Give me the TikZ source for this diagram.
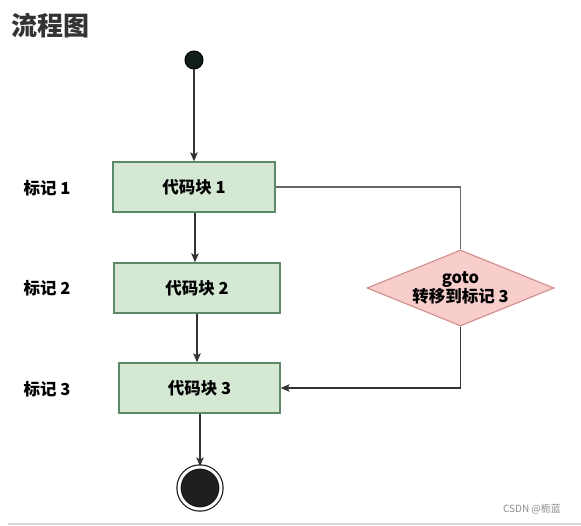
\documentclass[tikz,border=0pt]{standalone}
\usepackage{fontspec}
\setmainfont{Noto Sans CJK SC}
\usetikzlibrary{shapes.geometric,arrows.meta}
\definecolor{bloqueFill}{HTML}{D5E8D4}
\definecolor{bloqueDraw}{HTML}{5C8A68}
\definecolor{saltoFill}{HTML}{F8CECC}
\definecolor{saltoDraw}{HTML}{D08C8A}
\definecolor{inicioFill}{RGB}{18,30,24}
\tikzset{
	bloque/.style={rectangle, draw=bloqueDraw, fill=bloqueFill, line width=1.3pt,
		minimum height=50pt, inner sep=0pt, font=\fontsize{16.5}{19}\selectfont\bfseries},
	marca/.style={font=\fontsize{16.5}{19}\selectfont\bfseries},
	salto/.style={diamond, draw=saltoDraw, fill=saltoFill, line width=1.1pt, aspect=2.45,
		minimum width=187pt, minimum height=76pt, inner sep=0pt, align=center,
		font=\fontsize{16.5}{18}\selectfont\bfseries},
	flecha/.style={draw=black!80, line width=1.2pt, -{Stealth[length=9pt,width=7.5pt,inset=2pt]}},
	linea/.style={draw=black!60, line width=1.2pt}
}
\begin{document}
\begin{tikzpicture}[x=1pt, y=-1pt]
		\useasboundingbox (0,0) rectangle (581,526);
		% Título
		\node[font=\fontsize{26}{30}\selectfont\bfseries, text=black!80] (titulo) at (51,26) {流程图};
		% Inicio y fin
		\node[circle, draw=black, fill=inicioFill, line width=1pt, minimum size=18pt, inner sep=0pt] (inicio) at (194,60) {};
		\node[circle, draw=black!90, double=white, double distance=3pt, line width=1.2pt,
			fill=black!88, minimum size=42pt, inner sep=0pt] (fin) at (200,488) {};
		% Bloques de código
		\node[bloque, minimum width=162pt] (b1) at (194,187) {代码块 1};
		\node[bloque, minimum width=166pt] (b2) at (197,288) {代码块 2};
		\node[bloque, minimum width=161pt] (b3) at (199.5,388) {代码块 3};
		% Marcas
		\node[marca] (m1) at (47,188) {标记 1};
		\node[marca] (m2) at (47,288) {标记 2};
		\node[marca] (m3) at (47,389) {标记 3};
		% Salto goto
		\node[salto] (goto) at (460.5,288) {goto\\转移到标记 3};
		% Conexiones
		\draw[flecha] (inicio) -- (b1.north -| inicio);
		\draw[flecha] (b1.south -| 195,0) -- (b2.north -| 195,0);
		\draw[flecha] (b2.south -| 197,0) -- (b3.north -| 197,0);
		\draw[flecha] (b3.south -| fin) -- (fin);
		\draw[linea] (b1.east) -| (goto.north);
		\draw[flecha] (goto.south) |- (b3.east);
		% Marca de agua
		\node[text=black!45, font=\fontsize{10}{12}\selectfont] (agua) at (532,509) {CSDN @栀蓝};
		\draw[black!15, line width=2pt] (8,524) -- (581,524);
	\end{tikzpicture}
\end{document}
